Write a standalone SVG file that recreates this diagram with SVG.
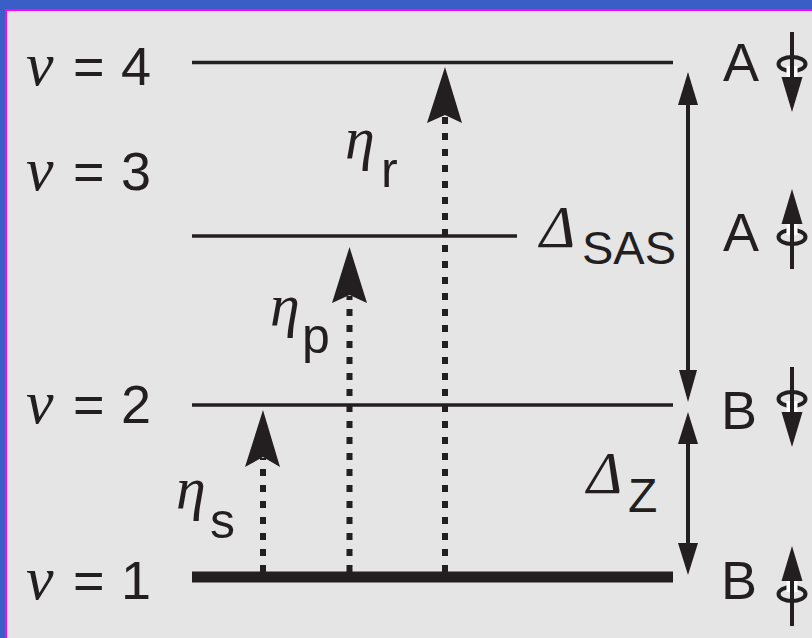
<svg xmlns="http://www.w3.org/2000/svg" xmlns:xlink="http://www.w3.org/1999/xlink" width="812" height="638" viewBox="0 0 812 638">
<style>
.sans{font-family:"Liberation Sans",Arial,sans-serif;fill:#231f20}
.greek{font-family:"Liberation Serif","Times New Roman",serif;font-style:italic;fill:#231f20}
.lvl{stroke:#231f20;stroke-width:3.5}
.dot{stroke:#231f20;stroke-width:6;stroke-dasharray:7 9;fill:none}
.ln{stroke:#231f20;stroke-width:4;fill:none}
.head{fill:#231f20}
</style>
<defs>
<g id="spinDown">
<ellipse cx="0" cy="0" rx="13.5" ry="7" fill="none" stroke="#231f20" stroke-width="4"/>
<rect x="-5.5" y="2" width="11" height="11" fill="#ffffff"/>
<line x1="0" y1="-32" x2="0" y2="16" stroke="#231f20" stroke-width="4"/>
<path d="M-10.5,13 L10.5,13 L0,48 Z" fill="#231f20"/>
</g>
</defs>
<rect x="0" y="0" width="812" height="638" fill="#3a5ec6"/>
<rect x="6" y="10" width="820" height="650" fill="#e5e5e5" stroke="#ff00ff" stroke-width="2"/>

<g id="level4">
<line class="lvl" x1="192" y1="62.5" x2="673" y2="62.5"/>
<text class="greek" x="26" y="85" font-size="62">ν</text>
<text class="sans" x="73" y="85" font-size="54">=</text>
<text class="sans" x="121" y="85" font-size="54">4</text>
</g>
<g id="level3">
<line class="lvl" x1="192" y1="236" x2="517" y2="236"/>
<text class="greek" x="26" y="190" font-size="62">ν</text>
<text class="sans" x="73" y="190" font-size="54">=</text>
<text class="sans" x="121" y="190" font-size="54">3</text>
</g>
<g id="level2">
<line class="lvl" x1="192" y1="405" x2="673" y2="405"/>
<text class="greek" x="26" y="423" font-size="62">ν</text>
<text class="sans" x="73" y="423" font-size="54">=</text>
<text class="sans" x="121" y="423" font-size="54">2</text>
</g>
<g id="level1">
<line x1="192" y1="577" x2="673" y2="577" stroke="#231f20" stroke-width="11"/>
<text class="greek" x="26" y="599" font-size="62">ν</text>
<text class="sans" x="73" y="599" font-size="54">=</text>
<text class="sans" x="121" y="599" font-size="54">1</text>
</g>

<g id="connectors">
<!-- eta_s -->
<line class="dot" x1="263" y1="572" x2="263" y2="458"/>
<path class="head" d="M263,410 L280,467 L263,457 L245,467 Z"/>
<!-- eta_p -->
<line class="dot" x1="349.5" y1="572" x2="349.5" y2="296"/>
<path class="head" d="M349.5,247 L367,303 L349.5,295 L332,303 Z"/>
<!-- eta_r -->
<line class="dot" x1="445" y1="572" x2="445" y2="116"/>
<path class="head" d="M445,67 L462,123 L445,115 L427,123 Z"/>
<!-- Delta SAS -->
<line class="ln" x1="688" y1="104" x2="688" y2="371"/>
<path class="head" d="M688,72 L698,105 L678,105 Z"/>
<path class="head" d="M688,402 L697,370 L679,370 Z"/>
<!-- Delta Z -->
<line class="ln" x1="688" y1="443" x2="688" y2="544"/>
<path class="head" d="M688,412 L698,444 L678,444 Z"/>
<path class="head" d="M688,575 L698,543 L678,543 Z"/>
</g>

<g id="label-eta-s">
<text class="greek" x="176" y="508" font-size="60">η</text>
<text class="sans" x="210" y="538" font-size="50">s</text>
</g>
<g id="label-eta-p">
<text class="greek" x="270" y="325" font-size="60">η</text>
<text class="sans" x="302" y="353" font-size="50">p</text>
</g>
<g id="label-eta-r">
<text class="greek" x="345" y="158" font-size="60">η</text>
<text class="sans" x="381" y="187" font-size="50">r</text>
</g>
<g id="label-delta-sas">
<text class="greek" x="540" y="247" font-size="60">Δ</text>
<text class="sans" x="582" y="264" font-size="47">SAS</text>
</g>
<g id="label-delta-z">
<text class="greek" x="587" y="493" font-size="60">Δ</text>
<text class="sans" x="628" y="512" font-size="48">Z</text>
</g>

<g id="state-A-down">
<text class="sans" x="723" y="81" font-size="54">A</text>
<use xlink:href="#spinDown" transform="translate(792,64)"/>
</g>
<g id="state-A-up">
<text class="sans" x="723" y="251" font-size="54">A</text>
<use xlink:href="#spinDown" transform="translate(792,237) scale(1,-1)"/>
</g>
<g id="state-B-down">
<text class="sans" x="721" y="429" font-size="54">B</text>
<use xlink:href="#spinDown" transform="translate(792,399)"/>
</g>
<g id="state-B-up">
<text class="sans" x="721" y="599" font-size="54">B</text>
<use xlink:href="#spinDown" transform="translate(792,594) scale(1,-1)"/>
</g>
</svg>
